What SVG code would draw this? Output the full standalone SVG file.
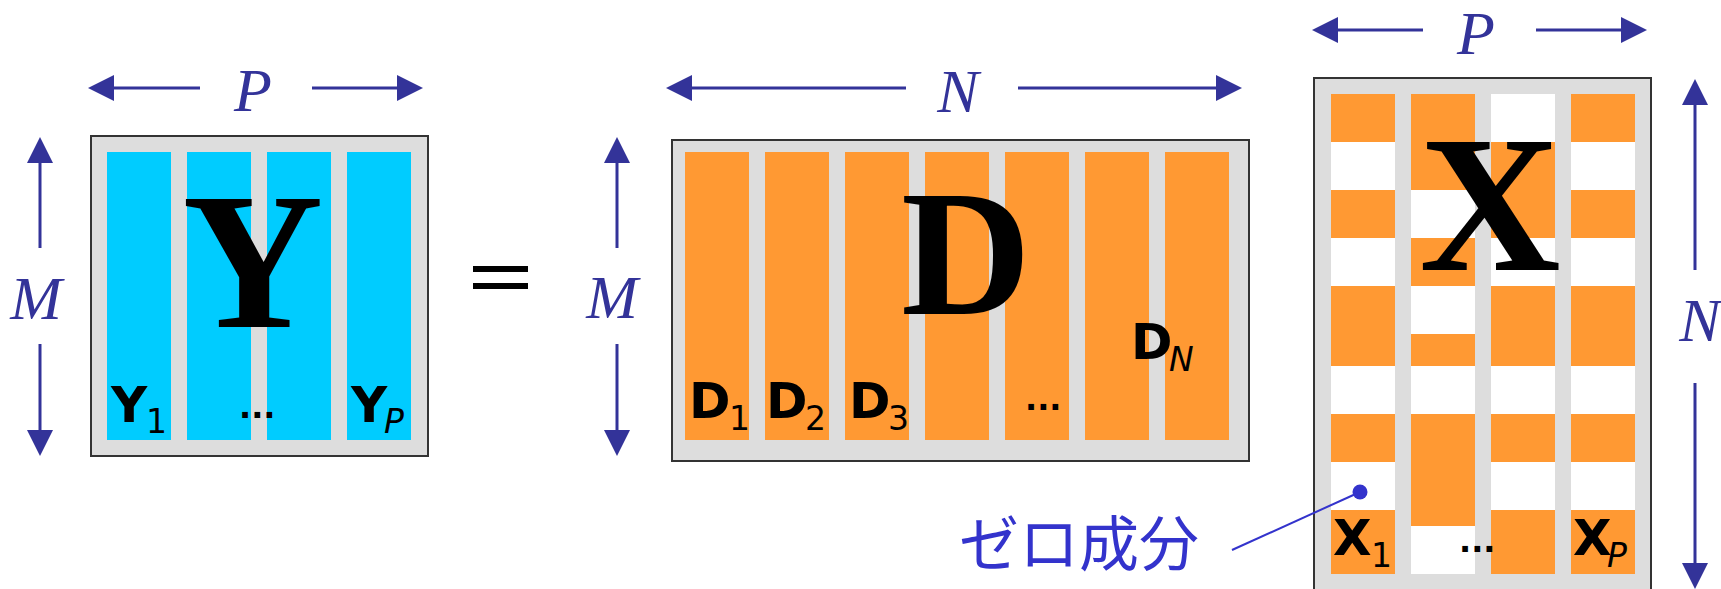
<svg xmlns="http://www.w3.org/2000/svg" width="1721" height="589" viewBox="0 0 1721 589">
  <style>
    .frame { fill: #DDDDDD; stroke: #333333; stroke-width: 2; }
    .blue { fill: #00CCFF; }
    .orange { fill: #FF9933; }
    .white { fill: #FFFFFF; }
    .big { font-family: "Liberation Serif", "Times New Roman", serif; font-weight: bold; fill: #000000; text-anchor: middle; }
    .dim { font-family: "Liberation Serif", "Times New Roman", serif; font-style: italic; font-size: 62px; fill: #333399; text-anchor: middle; }
    .vec { font-family: "DejaVu Sans", Verdana, sans-serif; font-weight: bold; font-size: 50px; fill: #000000; }
    .sub { font-family: "DejaVu Sans", Verdana, sans-serif; font-size: 33px; fill: #000000; }
    .subi { font-family: "DejaVu Sans", Verdana, sans-serif; font-style: italic; font-size: 33px; fill: #000000; }
    .dots { font-family: "DejaVu Sans", Verdana, sans-serif; font-weight: bold; font-size: 32px; fill: #000000; }
    .arrow { stroke: #333399; stroke-width: 3; fill: none; marker-end: url(#head); }
    .note { font-family: "Noto Sans CJK JP", "Noto Sans", sans-serif; font-size: 60px; fill: #3333CC; }
  </style>
  <defs>
    <marker id="head" viewBox="0 0 26 26" refX="6" refY="13" markerUnits="userSpaceOnUse" markerWidth="26" markerHeight="26" orient="auto">
      <path d="M0,0 L26,13 L0,26 Z" fill="#333399"/>
    </marker>
  </defs>

  <!-- matrix Y -->
  <g id="matrix-Y">
    <rect class="frame" x="91" y="136" width="337" height="320"/>
    <rect class="blue" x="107" y="152" width="64" height="288"/>
    <rect class="blue" x="187" y="152" width="64" height="288"/>
    <rect class="blue" x="267" y="152" width="64" height="288"/>
    <rect class="blue" x="347" y="152" width="64" height="288"/>
    <text class="big" x="253" y="327" font-size="195">Y</text>
    <text class="vec" x="111" y="422">Y</text>
    <text class="sub" x="146" y="433">1</text>
    <text class="dots" x="239" y="418">...</text>
    <text class="vec" x="351" y="422">Y</text>
    <text class="subi" x="384" y="433">P</text>
  </g>

  <!-- equals sign -->
  <g id="equals">
    <rect x="473" y="266" width="55" height="6" fill="#000000"/>
    <rect x="473" y="283" width="55" height="6" fill="#000000"/>
  </g>

  <!-- matrix D -->
  <g id="matrix-D">
    <rect class="frame" x="672" y="140" width="577" height="321"/>
    <rect class="orange" x="685" y="152" width="64" height="288"/>
    <rect class="orange" x="765" y="152" width="64" height="288"/>
    <rect class="orange" x="845" y="152" width="64" height="288"/>
    <rect class="orange" x="925" y="152" width="64" height="288"/>
    <rect class="orange" x="1005" y="152" width="64" height="288"/>
    <rect class="orange" x="1085" y="152" width="64" height="288"/>
    <rect class="orange" x="1165" y="152" width="64" height="288"/>
    <text class="big" x="966" y="314" font-size="180">D</text>
    <text class="vec" x="689" y="418">D</text>
    <text class="sub" x="729" y="430">1</text>
    <text class="vec" x="766" y="418">D</text>
    <text class="sub" x="805" y="430">2</text>
    <text class="vec" x="849" y="418">D</text>
    <text class="sub" x="888" y="430">3</text>
    <text class="dots" x="1025" y="410">...</text>
    <text class="vec" x="1131" y="359">D</text>
    <text class="subi" x="1169" y="371">N</text>
  </g>

  <!-- matrix X: sparse columns, white cells are zeros -->
  <g id="matrix-X">
    <rect class="frame" x="1314" y="78" width="337" height="514"/>
    <rect class="white" x="1331" y="94" width="64" height="480"/>
    <rect class="white" x="1411" y="94" width="64" height="480"/>
    <rect class="white" x="1491" y="94" width="64" height="480"/>
    <rect class="white" x="1571" y="94" width="64" height="480"/>
    <!-- column 1 -->
    <rect class="orange" x="1331" y="94" width="64" height="48"/>
    <rect class="orange" x="1331" y="190" width="64" height="48"/>
    <rect class="orange" x="1331" y="286" width="64" height="80"/>
    <rect class="orange" x="1331" y="414" width="64" height="48"/>
    <rect class="orange" x="1331" y="510" width="64" height="64"/>
    <!-- column 2 -->
    <rect class="orange" x="1411" y="94" width="64" height="96"/>
    <rect class="orange" x="1411" y="238" width="64" height="48"/>
    <rect class="orange" x="1411" y="334" width="64" height="32"/>
    <rect class="orange" x="1411" y="414" width="64" height="112"/>
    <!-- column 3 -->
    <rect class="orange" x="1491" y="142" width="64" height="96"/>
    <rect class="orange" x="1491" y="286" width="64" height="80"/>
    <rect class="orange" x="1491" y="414" width="64" height="48"/>
    <rect class="orange" x="1491" y="510" width="64" height="64"/>
    <!-- column 4 -->
    <rect class="orange" x="1571" y="94" width="64" height="48"/>
    <rect class="orange" x="1571" y="190" width="64" height="48"/>
    <rect class="orange" x="1571" y="286" width="64" height="80"/>
    <rect class="orange" x="1571" y="414" width="64" height="48"/>
    <rect class="orange" x="1571" y="510" width="64" height="64"/>
    <text class="big" x="1490" y="270" font-size="196">X</text>
    <text class="vec" x="1333" y="555">X</text>
    <text class="sub" x="1371" y="567">1</text>
    <text class="dots" x="1459" y="552">...</text>
    <text class="vec" x="1573" y="555">X</text>
    <text class="subi" x="1607" y="567">P</text>
  </g>

  <!-- dimension labels -->
  <g id="dimension-labels">
    <text class="dim" x="253" y="111">P</text>
    <text class="dim" x="36" y="319">M</text>
    <text class="dim" x="958" y="112">N</text>
    <text class="dim" x="612" y="318">M</text>
    <text class="dim" x="1476" y="54">P</text>
    <text class="dim" x="1700" y="341">N</text>
  </g>

  <!-- zero-entry annotation -->
  <g id="zero-note">
    <text class="note" x="959" y="566">ゼロ成分</text>
  </g>

  <!-- connectors: dimension arrows and pointer -->
  <g id="connectors">
    <line class="arrow" x1="200" y1="88" x2="108" y2="88"/>
    <line class="arrow" x1="312" y1="88" x2="403" y2="88"/>
    <line class="arrow" x1="40" y1="248" x2="40" y2="157"/>
    <line class="arrow" x1="40" y1="344" x2="40" y2="436"/>
    <line class="arrow" x1="906" y1="88" x2="686" y2="88"/>
    <line class="arrow" x1="1018" y1="88" x2="1222" y2="88"/>
    <line class="arrow" x1="617" y1="248" x2="617" y2="157"/>
    <line class="arrow" x1="617" y1="344" x2="617" y2="436"/>
    <line class="arrow" x1="1423" y1="30" x2="1332" y2="30"/>
    <line class="arrow" x1="1536" y1="30" x2="1627" y2="30"/>
    <line class="arrow" x1="1695" y1="270" x2="1695" y2="99"/>
    <line class="arrow" x1="1695" y1="383" x2="1695" y2="569"/>
    <line x1="1360" y1="492" x2="1232" y2="550" stroke="#3333CC" stroke-width="2"/>
    <circle cx="1360" cy="492" r="7.5" fill="#3333CC"/>
  </g>
</svg>
